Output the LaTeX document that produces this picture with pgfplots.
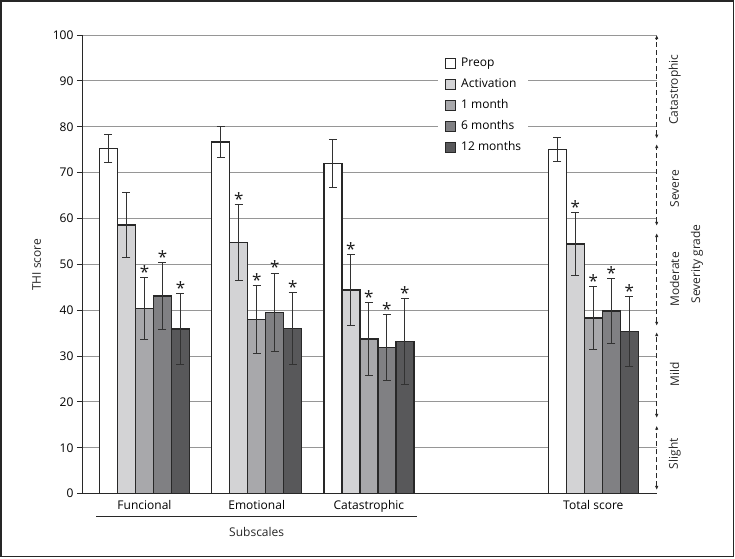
\documentclass[border=0pt]{standalone}
\usepackage{fontspec}
\setmainfont{Open Sans}
\usepackage{pgfplots}
\pgfplotsset{compat=1.18}
\usetikzlibrary{arrows.meta}
\definecolor{cA}{RGB}{211,211,213}
\definecolor{cB}{RGB}{168,168,171}
\definecolor{cC}{RGB}{128,128,131}
\definecolor{cD}{RGB}{88,88,90}
\definecolor{edge}{RGB}{40,40,40}
\definecolor{errc}{RGB}{50,50,50}
\definecolor{gridc}{RGB}{150,150,150}
\begin{document}
\begin{tikzpicture}[font=\fontsize{12}{14}\selectfont]
\useasboundingbox (-82pt,-64.4pt) rectangle (653pt,493.6pt);
\draw[line width=1.3pt, black!85] (-81pt,-63.2pt) rectangle (651.6pt,492.6pt);
\begin{axis}[
  at={(0pt,0pt)}, anchor=south west,
  scale only axis, width=574.7pt, height=458.6pt,
  xmin=-0.557, xmax=4.565, ymin=0, ymax=100,
  clip=false,
  axis x line*=bottom, axis y line*=left,
  axis line style={edge, line width=0.9pt},
  ybar=0pt, bar width=18pt,
  legend image code/.code={\draw[#1, line width=1pt] (0pt,-5pt) rectangle (10pt,5pt);},
  ytick={0,10,...,100},
  tick align=outside, major tick length=5pt,
  ytick style={edge, line width=0.9pt},
  xtick={0,1,2,4},
  xticklabels={Funcional,Emotional,Catastrophic,Total score},
  xtick style={draw=none},
  /pgf/number format/assume math mode=true,
  ymajorgrids, grid style={gridc, line width=0.9pt},
  xticklabel style={inner ysep=1.5pt},
  legend style={at={(rel axis cs:0.6195,0.9617)}, anchor=north west, draw=none, fill=white,
    inner xsep=7pt, inner ysep=5pt, row sep=9pt,
    nodes={inner sep=0pt, text height=9pt, text depth=3pt},
    /tikz/every odd column/.append style={column sep=5pt}},
  legend cell align=left,
  error bars/y dir=both, error bars/y explicit,
  error bars/error bar style={errc, line width=1pt},
  error bars/error mark options={rotate=90, errc, line width=1pt, mark size=4pt},
]
% Preop
\addplot[bar shift=-36pt, fill=white, draw=edge, line width=1.3pt]
  coordinates {(0,75.2) +- (0,3.1) (1,76.7) +- (0,3.4) (2,72.0) +- (0,5.3) (4,75.0) +- (0,2.6)};
% Activation
\addplot[bar shift=-18pt, fill=cA, draw=edge, line width=1.3pt]
  coordinates {(0,58.6) +- (0,7.1) (1,54.7) +- (0,8.3) (2,44.4) +- (0,7.7) (4,54.4) +- (0,6.9)};
% 1 month
\addplot[bar shift=0pt, fill=cB, draw=edge, line width=1.3pt]
  coordinates {(0,40.4) +- (0,6.7) (1,38.0) +- (0,7.4) (2,33.7) +- (0,8.0) (4,38.3) +- (0,6.8)};
% 6 months
\addplot[bar shift=18pt, fill=cC, draw=edge, line width=1.3pt]
  coordinates {(0,43.1) +- (0,7.3) (1,39.5) +- (0,8.6) (2,31.9) +- (0,7.2) (4,39.8) +- (0,7.1)};
% 12 months
\addplot[bar shift=36pt, fill=cD, draw=edge, line width=1.3pt]
  coordinates {(0,35.9) +- (0,7.7) (1,36.0) +- (0,7.9) (2,33.2) +- (0,9.4) (4,35.4) +- (0,7.6)};
\legend{Preop, Activation, 1 month, 6 months, 12 months}
% significance asterisks at the upper error limit (x already offset to each bar's centre)
\pgfplotsset{every node near coord/.style={anchor=south, inner sep=0pt, yshift=-1pt, font=\fontsize{17}{17}\selectfont, text=black!90}}
\addplot[forget plot, sharp plot, draw=none, mark=none, error bars/y dir=none, nodes near coords, point meta=explicit symbolic]
  coordinates {(0.8396,63.0)[*] (1.8396,52.1)[*] (3.8396,61.3)[*]
               (0,47.1)[*] (1,45.4)[*] (2,41.7)[*] (4,45.1)[*]
               (0.1604,50.4)[*] (1.1604,48.1)[*] (2.1604,39.1)[*] (4.1604,46.9)[*]
               (0.3208,43.6)[*] (1.3208,43.9)[*] (2.3208,42.6)[*] (4.3208,43.0)[*]};
% severity grade scale on the right
\begin{scope}[line width=0.8pt, edge, dash pattern=on 5pt off 3pt]
\draw[{Latex[length=4pt,width=3.5pt]}-{Latex[length=4pt,width=3.5pt]}] (axis cs:4.565,0.8) -- (axis cs:4.565,14.8);
\draw[{Latex[length=4pt,width=3.5pt]}-{Latex[length=4pt,width=3.5pt]}] (axis cs:4.565,16.5) -- (axis cs:4.565,35.2);
\draw[{Latex[length=4pt,width=3.5pt]}-{Latex[length=4pt,width=3.5pt]}] (axis cs:4.565,36.6) -- (axis cs:4.565,56.8);
\draw[{Latex[length=4pt,width=3.5pt]}-{Latex[length=4pt,width=3.5pt]}] (axis cs:4.565,58.4) -- (axis cs:4.565,76.2);
\draw[{Latex[length=4pt,width=3.5pt]}-{Latex[length=4pt,width=3.5pt]}] (axis cs:4.565,77.4) -- (axis cs:4.565,100);
\end{scope}
\node[rotate=90, text=black!85] at ([xshift=18pt]axis cs:4.565,88.1) {Catastrophic};
\node[rotate=90, text=black!85] at ([xshift=18pt]axis cs:4.565,66.5) {Severe};
\node[rotate=90, text=black!85] at ([xshift=18pt]axis cs:4.565,46.7) {Moderate};
\node[rotate=90, text=black!85] at ([xshift=18pt]axis cs:4.565,26.1) {Mild};
\node[rotate=90, text=black!85] at ([xshift=18pt]axis cs:4.565,8.7) {Slight};
\node[rotate=90, text=black!85] at ([xshift=40.3pt]axis cs:4.565,50.1) {Severity grade};
\node[rotate=90, text=black!85] at ([xshift=-45.3pt]axis cs:-0.557,49.9) {THI score};
% subscales bracket
\draw[edge, line width=0.8pt] ([yshift=-23.1pt]axis cs:-0.432,0) -- ([yshift=-23.1pt]axis cs:2.426,0);
\node[text=black!85] at ([yshift=-38.1pt]axis cs:1,0) {Subscales};
\end{axis}
\end{tikzpicture}
\end{document}
